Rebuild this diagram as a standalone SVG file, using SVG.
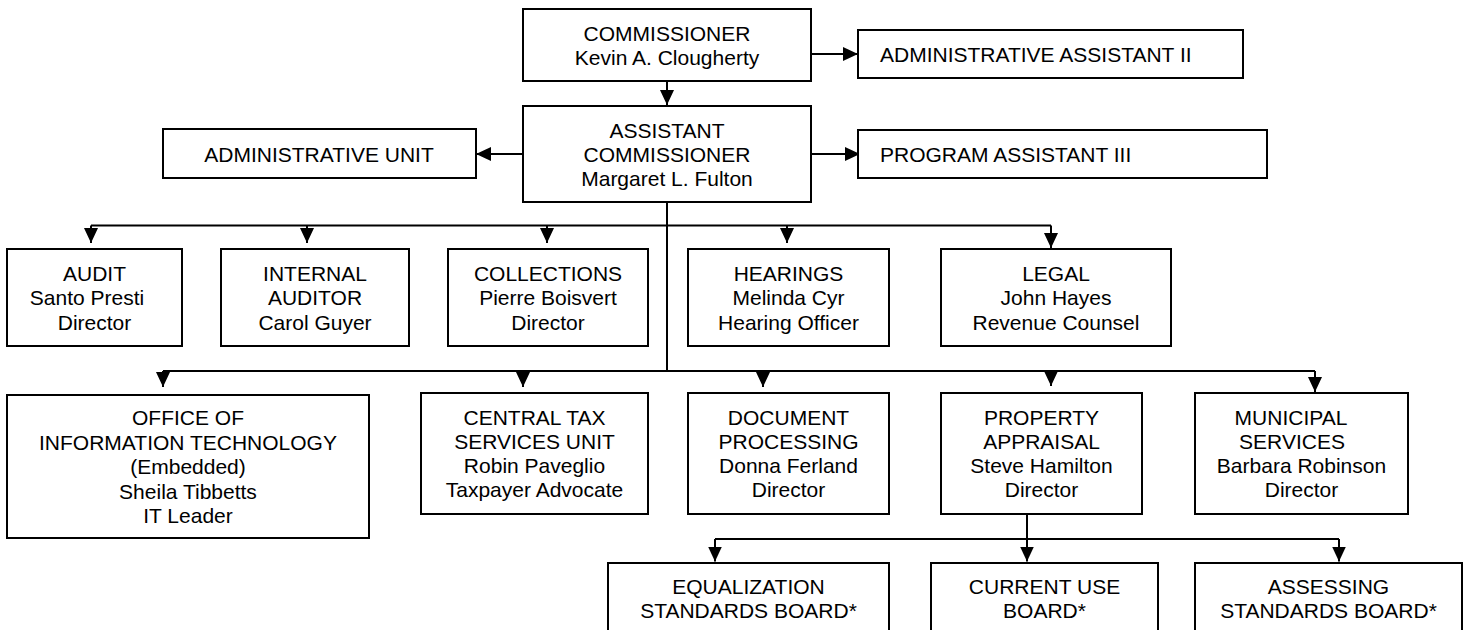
<svg xmlns="http://www.w3.org/2000/svg" width="1468" height="630" viewBox="0 0 1468 630">
<style>
  rect.box { fill: #ffffff; stroke: #000000; stroke-width: 2; }
  text { font-family: "Liberation Sans", Arial, sans-serif; font-size: 21px; fill: #000000; }
  text.c { text-anchor: middle; }
  .conn path { fill: none; stroke: #000000; stroke-width: 2; }
</style>
<defs>
  <marker id="arr" markerUnits="userSpaceOnUse" markerWidth="16" markerHeight="14" refX="15" refY="7" orient="auto">
    <path d="M0,0 L15,7 L0,14 Z" fill="#000000"/>
  </marker>
</defs>
<rect width="1468" height="630" fill="#ffffff"/>

<g class="conn" id="connectors">
  <path d="M667,81 V105" marker-end="url(#arr)"/>
  <path d="M811,54 H858" marker-end="url(#arr)"/>
  <path d="M811,154 H860" marker-end="url(#arr)"/>
  <path d="M529,154 H476" marker-end="url(#arr)"/>
  <path d="M667,202 V371"/>
  <path d="M91,225.5 H1051"/>
  <path d="M91,225.5 V243" marker-end="url(#arr)"/>
  <path d="M307,225.5 V243" marker-end="url(#arr)"/>
  <path d="M547,225.5 V243" marker-end="url(#arr)"/>
  <path d="M787,225.5 V243" marker-end="url(#arr)"/>
  <path d="M1051,225.5 V248" marker-end="url(#arr)"/>
  <path d="M163,371 H1315"/>
  <path d="M163,371 V387" marker-end="url(#arr)"/>
  <path d="M523,371 V387" marker-end="url(#arr)"/>
  <path d="M763,371 V387" marker-end="url(#arr)"/>
  <path d="M1051,371 V386" marker-end="url(#arr)"/>
  <path d="M1315,371 V392" marker-end="url(#arr)"/>
  <path d="M1027,514 V561.5" marker-end="url(#arr)"/>
  <path d="M715,539 H1339"/>
  <path d="M715,539 V561.5" marker-end="url(#arr)"/>
  <path d="M1339,539 V561.5" marker-end="url(#arr)"/>
</g>

<g id="commissioner">
  <rect class="box" x="523" y="9" width="288" height="72"/>
  <text class="c" x="667" y="40.7">COMMISSIONER</text>
  <text class="c" x="667" y="65">Kevin A. Clougherty</text>
</g>
<g id="admin-assistant-2">
  <rect class="box" x="858" y="30" width="385" height="48"/>
  <text x="880" y="61.5">ADMINISTRATIVE ASSISTANT II</text>
</g>
<g id="assistant-commissioner">
  <rect class="box" x="523" y="106" width="288" height="96"/>
  <text class="c" x="667" y="137.7">ASSISTANT</text>
  <text class="c" x="667" y="162">COMMISSIONER</text>
  <text class="c" x="667" y="186.3">Margaret L. Fulton</text>
</g>
<g id="admin-unit">
  <rect class="box" x="163" y="129" width="313" height="49"/>
  <text class="c" x="319" y="161.5">ADMINISTRATIVE UNIT</text>
</g>
<g id="program-assistant-3">
  <rect class="box" x="858" y="130" width="409" height="48"/>
  <text x="880" y="161.5">PROGRAM ASSISTANT III</text>
</g>

<g id="audit">
  <rect class="box" x="7" y="249" width="175" height="97"/>
  <text class="c" x="94.5" y="280.5">AUDIT</text>
  <text class="c" x="87" y="305">Santo Presti</text>
  <text class="c" x="94.5" y="329.5">Director</text>
</g>
<g id="internal-auditor">
  <rect class="box" x="221" y="249" width="188" height="97"/>
  <text class="c" x="315" y="280.5">INTERNAL</text>
  <text class="c" x="315" y="305">AUDITOR</text>
  <text class="c" x="315" y="329.5">Carol Guyer</text>
</g>
<g id="collections">
  <rect class="box" x="448" y="249" width="200" height="97"/>
  <text class="c" x="548" y="280.5">COLLECTIONS</text>
  <text class="c" x="548" y="305">Pierre Boisvert</text>
  <text class="c" x="548" y="329.5">Director</text>
</g>
<g id="hearings">
  <rect class="box" x="688" y="249" width="201" height="97"/>
  <text class="c" x="788.5" y="280.5">HEARINGS</text>
  <text class="c" x="788.5" y="305">Melinda Cyr</text>
  <text class="c" x="788.5" y="329.5">Hearing Officer</text>
</g>
<g id="legal">
  <rect class="box" x="941" y="249" width="230" height="97"/>
  <text class="c" x="1056" y="280.5">LEGAL</text>
  <text class="c" x="1056" y="305">John Hayes</text>
  <text class="c" x="1056" y="329.5">Revenue Counsel</text>
</g>

<g id="oit">
  <rect class="box" x="7" y="395" width="362" height="143"/>
  <text class="c" x="188" y="425">OFFICE OF</text>
  <text class="c" x="188" y="449.5">INFORMATION TECHNOLOGY</text>
  <text class="c" x="188" y="474">(Embedded)</text>
  <text class="c" x="188" y="498.5">Sheila Tibbetts</text>
  <text class="c" x="188" y="523">IT Leader</text>
</g>
<g id="central-tax">
  <rect class="box" x="421" y="393" width="227" height="121"/>
  <text class="c" x="534.5" y="424.5">CENTRAL TAX</text>
  <text class="c" x="534.5" y="448.8">SERVICES UNIT</text>
  <text class="c" x="534.5" y="473.1">Robin Paveglio</text>
  <text class="c" x="534.5" y="497.4">Taxpayer Advocate</text>
</g>
<g id="document-processing">
  <rect class="box" x="688" y="393" width="201" height="121"/>
  <text class="c" x="788.5" y="424.5">DOCUMENT</text>
  <text class="c" x="788.5" y="448.8">PROCESSING</text>
  <text class="c" x="788.5" y="473.1">Donna Ferland</text>
  <text class="c" x="788.5" y="497.4">Director</text>
</g>
<g id="property-appraisal">
  <rect class="box" x="941" y="393" width="201" height="121"/>
  <text class="c" x="1041.5" y="424.5">PROPERTY</text>
  <text class="c" x="1041.5" y="448.8">APPRAISAL</text>
  <text class="c" x="1041.5" y="473.1">Steve Hamilton</text>
  <text class="c" x="1041.5" y="497.4">Director</text>
</g>
<g id="municipal-services">
  <rect class="box" x="1195" y="393" width="213" height="121"/>
  <text class="c" x="1291" y="424.5">MUNICIPAL</text>
  <text class="c" x="1292" y="448.8">SERVICES</text>
  <text class="c" x="1301.5" y="473.1">Barbara Robinson</text>
  <text class="c" x="1301.5" y="497.4">Director</text>
</g>

<g id="equalization">
  <rect class="box" x="608" y="563" width="281" height="80"/>
  <text class="c" x="748.5" y="593.5">EQUALIZATION</text>
  <text class="c" x="748.5" y="618">STANDARDS BOARD*</text>
</g>
<g id="current-use">
  <rect class="box" x="931" y="563" width="227" height="80"/>
  <text class="c" x="1044.5" y="593.5">CURRENT USE</text>
  <text class="c" x="1044.5" y="618">BOARD*</text>
</g>
<g id="assessing">
  <rect class="box" x="1195" y="563" width="267" height="80"/>
  <text class="c" x="1328.5" y="593.5">ASSESSING</text>
  <text class="c" x="1328.5" y="618">STANDARDS BOARD*</text>
</g>
</svg>
